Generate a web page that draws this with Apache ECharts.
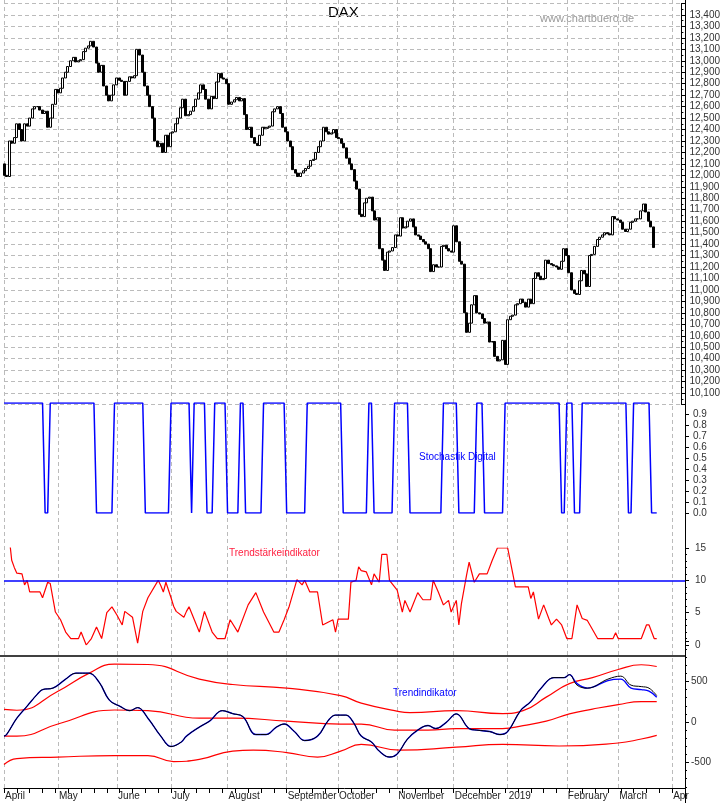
<!DOCTYPE html>
<html><head><meta charset="utf-8">
<script src="https://cdn.jsdelivr.net/npm/echarts@6/dist/echarts.min.js"></script>
<style>html,body{margin:0;padding:0;background:#fff}#c{width:723px;height:803px}</style>
</head><body><div id="c"></div>
<script>
// ---- data ----
const startDate = '2018-04-02';
const dayCount = 266;
const monthNames = ['January','February','March','April','May','June','July','August','September','October','November','December'];
const firstOpen = 12100;
const closes = [
12000,11990,12300,12280,12330,12450,12400,12300,12450,12430,
12500,12580,12600,12600,12570,12540,12560,12420,12500,12620,
12750,12720,12760,12850,12900,12950,13000,13030,12990,13000,
13010,13080,13110,13130,13170,13120,12980,12900,12960,12780,
12700,12650,12700,12790,12850,12830,12820,12700,12820,12860,
12850,12870,13100,13050,12900,12780,12700,12600,12500,12300,
12250,12280,12200,12350,12250,12370,12380,12450,12500,12590,
12665,12520,12530,12560,12600,12665,12720,12790,12750,12665,
12580,12690,12670,12815,12890,12850,12840,12800,12620,12640,
12660,12680,12650,12670,12530,12400,12420,12330,12280,12260,
12350,12420,12410,12420,12430,12555,12580,12600,12540,12420,
12380,12300,12250,12050,12020,11990,12020,12040,12060,12080,
12130,12140,12200,12250,12300,12420,12380,12360,12370,12400,
12330,12320,12280,12240,12150,12100,12050,11950,11880,11660,
11640,11760,11800,11810,11690,11610,11630,11360,11260,11170,
11330,11340,11370,11480,11470,11630,11540,11550,11600,11620,
11550,11480,11470,11440,11420,11400,11360,11160,11220,11200,
11200,11380,11390,11360,11340,11330,11560,11420,11250,11225,
10800,10630,10710,10870,10950,10800,10790,10750,10710,10720,
10545,10550,10420,10380,10390,10560,10350,10740,10770,10780,
10870,10880,10920,10890,10850,10920,10880,11100,11150,11120,
11090,11100,11260,11230,11220,11210,11200,11180,11250,11360,
11300,11150,11000,10970,10960,11080,11170,11140,11030,11300,
11310,11380,11440,11460,11480,11500,11490,11480,11640,11620,
11610,11590,11530,11510,11530,11590,11600,11620,11620,11690,
11750,11680,11600,11550,11370];
// stochastik digital: [fromIndex, toIndex, value]
const stochRuns = [[0,15,1],[16,17,0],[18,35,1],[36,42,0],[43,54,1],[55,64,0],[65,72,1],[73,73,0],
[74,78,1],[79,81,0],[82,86,1],[87,91,0],[92,93,1],[94,100,0],[101,109,1],[110,117,0],[118,131,1],
[132,141,0],[142,143,1],[144,151,0],[152,157,1],[158,170,0],[171,176,1],[177,183,0],[184,186,1],
[187,194,0],[195,216,1],[217,218,0],[219,221,1],[222,224,0],[225,242,1],[243,244,0],[245,251,1],[252,254,0]];
const trendStrength = [[0,17.8],[1,16.5],[2,16.8],[3,13.1],[4,12],[5,11.1],[7,11],[8,9.3],[9,10],[10,8.2],[14,8.2],
[15,7.3],[17,9.7],[18,9.5],[20,5.1],[22,3.9],[24,2],[26,1],[29,1],[30,2],[32,0],[34,1],[36,2.8],[38,1],[40,5],[42,5.9],
[44,4.6],[46,3.1],[47,5.2],[50,4.3],[51,2.3],[52,0.3],[54,5.2],[56,7.3],[60,10],[61,9.2],[62,8.2],[63,9.7],[65,7.3],
[66,6],[67,5.2],[70,4.3],[71,5.2],[72,5.9],[76,2],[78,5.2],[81,2],[83,1],[86,1],[88,3.9],[91,2],[95,6.2],[98,8.1],
[101,5.1],[105,2],[107,2],[109,3.9],[111,6],[114,10.1],[116,9.3],[117,10],[119,8.2],[122,8.2],[124,3.1],[128,3.9],
[129,2],[130,4],[134,4],[135,9.7],[137,10],[138,12.1],[139,11.5],[141,11.3],[143,9.3],[144,11],[146,9.7],[147,14],
[149,14],[150,10],[153,8.5],[155,5.1],[156,6.9],[158,5.1],[161,8.1],[163,7],[166,7],[167,10],[169,8.2],[171,6.2],
[173,6.9],[174,5.1],[176,6.9],[177,3.1],[178,6.4],[180,10.8],[181,12.8],[183,9.7],[185,11],[188,11],[190,13.1],
[192,15],[196,15],[198,11],[199,9],[204,9],[205,7.2],[206,8.2],[208,4],[210,6.2],[212,4.1],[213,3.1],[215,4],
[217,3.1],[219,1],[221,1],[223,6.2],[225,4.1],[227,3.8],[228,3.1],[231,1],[237,1],[238,1.9],[239,1],[248,1],
[250,3.1],[251,3.1],[253,1],[254,1]];
const bandUpper = [[0,155],[5,145],[21,380],[33,600],[43,715],[56,710],[76,530],[89,463],[110,418],[131,325],[139,233],
[152,141],[158,115],[176,141],[194,104],[202,141],[211,307],[220,474],[229,548],[239,648],[248,707],[254,685]];
const bandMiddle = [[0,-174],[5,-174],[21,-25],[43,148],[56,141],[76,47],[89,47],[110,11],[131,-25],[139,-25],
[152,-100],[165,-100],[176,-81],[194,-81],[202,-44],[211,11],[220,100],[229,159],[239,215],[248,252],[254,252]];
const bandLower = [[0,-525],[5,-451],[21,-433],[43,-414],[56,-414],[66,-488],[76,-462],[89,-359],[97,-348],[110,-377],
[122,-433],[131,-359],[139,-277],[154,-348],[176,-311],[194,-277],[216,-296],[239,-259],[248,-210],[254,-166]];
const trendBlack = [[0,-174],[1,-155],[5,47],[9,196],[13,344],[15,400],[19,418],[24,529],[28,603],[33,603],[37,492],
[41,270],[45,196],[49,140],[52,178],[56,47],[61,-174],[65,-303],[69,-247],[71,-174],[76,-63],[80,11],[85,140],[89,103],
[93,66],[98,-155],[102,-155],[106,-63],[109,-25],[113,-118],[117,-229],[122,-174],[126,11],[129,85],[133,85],[136,-7],
[139,-174],[143,-247],[146,-359],[150,-433],[153,-396],[157,-211],[161,-100],[165,-44],[168,-81],[172,-7],[176,100],
[181,-81],[184,-100],[189,-118],[193,-155],[196,-118],[201,141],[205,252],[209,418],[214,548],[218,548],[220,585],
[223,455],[227,418],[235,529],[240,566],[244,455],[248,437],[251,418],[254,326]];
const trendBlueTail = [[223,474],[227,418],[235,511],[240,529],[244,418],[248,400],[251,381],[254,307]];
const priceTicks = {min:10000,max:13500,step:100};
const stochTicks = {min:0,max:1,step:0.1};
const strengthTicks = {min:0,max:15,step:5};
const trendTicks = {min:-1000,max:1000,step:500};

// ---- build ----
const dates = [];
{ let d = new Date(startDate+'T12:00:00Z');
  while (dates.length < dayCount) { const w = d.getUTCDay(); if (w!==0 && w!==6) dates.push(d.toISOString().slice(0,10)); d = new Date(d.getTime()+86400000); } }
const isMonthStart = i => i===0 || dates[i].slice(5,7)!==dates[i-1].slice(5,7);
const monthLabel = v => { const m = +v.slice(5,7), y = v.slice(0,4);
  if (m===1) return y; if (y==='2019' && m===4) return 'Apr'; return monthNames[m-1]; };
const candles = closes.map((c,i)=>{ const o = i===0?firstOpen:closes[i-1]; return [o,c,Math.min(o,c),Math.max(o,c)]; });
const stoch = [];
stochRuns.forEach(r=>{ for(let i=r[0];i<=r[1];i++) stoch.push([i,r[2]]); });
const trendBlue = trendBlack.filter(p=>p[0]<223).concat(trendBlueTail);

const FONT = 'Liberation Sans';
const L = 4, R = 38;
const axisY = (t, extra) => Object.assign({
  type:'value', position:'right', min:t.min, max:t.max, interval:t.step,
  axisLine:{show:true,lineStyle:{color:'#000'}}, axisTick:{show:true,length:4,lineStyle:{color:'#000'}},
  minorTick:{show:true,splitNumber:2,length:2,lineStyle:{color:'#000'}},
  axisLabel:{color:'#333',fontSize:10,fontFamily:FONT,margin:8,showMinLabel:false,showMaxLabel:false},
  splitLine:{show:false}
}, extra);
const hiddenX = gi => ({gridIndex:gi,type:'category',data:dates,boundaryGap:false,show:false});

const chart = echarts.init(document.getElementById('c'));
chart.setOption({
  animation:false,
  backgroundColor:'#fff',
  grid:[
    {left:L,right:R,top:3.5,height:401},
    {left:L,right:R,top:403,height:110},
    {left:L,right:R,top:548,height:97},
    {left:L,right:R,top:641,height:180},
    {left:L,right:R,top:0,height:788}
  ],
  xAxis:[hiddenX(0),hiddenX(1),hiddenX(2),hiddenX(3),
    {gridIndex:4,type:'category',data:dates,boundaryGap:false,
     axisLine:{lineStyle:{color:'#000'}},
     axisTick:{show:true,length:5,interval:(i)=>i%5===0,lineStyle:{color:'#000'}},
     axisLabel:{interval:(i)=>isMonthStart(i),formatter:monthLabel,align:'left',margin:3,fontSize:10,color:'#222',fontFamily:FONT,padding:[0,0,0,1]},
     splitLine:{show:true,interval:(i)=>isMonthStart(i),lineStyle:{color:'#bbb',type:[4,3]}}}
  ],
  yAxis:[
    axisY(priceTicks,{gridIndex:0,splitLine:{show:true,lineStyle:{color:'#bbb',type:[4,3]}}}),
    axisY(stochTicks,{gridIndex:1,axisLabel:{color:'#333',fontSize:10,fontFamily:FONT,margin:8,showMinLabel:true,showMaxLabel:false,formatter:v=>v.toFixed(1)},minorTick:{show:false}}),
    axisY(strengthTicks,{gridIndex:2,minorTick:{show:true,splitNumber:5,length:2,lineStyle:{color:'#000'}},axisLabel:{color:'#333',fontSize:10,fontFamily:FONT,margin:10,showMinLabel:true,showMaxLabel:true}}),
    axisY(trendTicks,{gridIndex:3,minorTick:{show:true,splitNumber:5,length:2,lineStyle:{color:'#000'}},axisLabel:{color:'#333',fontSize:10,fontFamily:FONT,margin:6,formatter:v=>Math.abs(v)>=1000?'':String(v)}}),
    {gridIndex:4,type:'value',position:'right',min:0,max:1,axisLine:{show:true,lineStyle:{color:'#000'}},axisTick:{show:false},axisLabel:{show:false},splitLine:{show:false}}
  ],
  series:[
    {type:'candlestick',xAxisIndex:0,yAxisIndex:0,data:candles,barWidth:2.5,
     itemStyle:{color:'#fff',color0:'#000',borderColor:'#000',borderColor0:'#000',borderWidth:1}},
    {type:'line',xAxisIndex:1,yAxisIndex:1,data:stoch,showSymbol:false,lineStyle:{color:'#0000ff',width:1.5}},
    {type:'line',xAxisIndex:2,yAxisIndex:2,data:trendStrength,showSymbol:false,lineStyle:{color:'#ff0000',width:1.2},
     markLine:{silent:true,symbol:'none',label:{show:false},lineStyle:{color:'#0000ff',width:1.5,type:'solid'},data:[{yAxis:10}]}},
    {type:'line',xAxisIndex:3,yAxisIndex:3,data:bandUpper,smooth:0.5,showSymbol:false,lineStyle:{color:'#ff0000',width:1.2}},
    {type:'line',xAxisIndex:3,yAxisIndex:3,data:bandMiddle,smooth:0.5,showSymbol:false,lineStyle:{color:'#ff0000',width:1.2}},
    {type:'line',xAxisIndex:3,yAxisIndex:3,data:bandLower,smooth:0.5,showSymbol:false,lineStyle:{color:'#ff0000',width:1.2}},
    {type:'line',xAxisIndex:3,yAxisIndex:3,data:trendBlue,smooth:0.4,showSymbol:false,lineStyle:{color:'#0000ff',width:1.4}},
    {type:'line',xAxisIndex:3,yAxisIndex:3,data:trendBlack,smooth:0.4,showSymbol:false,lineStyle:{color:'#000',width:1}}
  ],
  graphic:[
    {type:'line',shape:{x1:0,y1:656,x2:L+681,y2:656},style:{stroke:'#000',lineWidth:1.5}},
    {type:'text',left:328,top:5,style:{text:'DAX',font:'15px "Liberation Sans"',fill:'#000'}},
    {type:'text',left:540,top:13,style:{text:'www.chartbuero.de',font:'11px "Liberation Sans"',fill:'#999'}},
    {type:'text',left:419,top:452,style:{text:'Stochastik Digital',font:'10px "Liberation Sans"',fill:'#0000ff'}},
    {type:'text',left:229,top:548,style:{text:'Trendstärkeindikator',font:'10px "Liberation Sans"',fill:'#ff2040'}},
    {type:'text',left:393,top:688,style:{text:'Trendindikator',font:'10px "Liberation Sans"',fill:'#0000ff'}}
  ]
});
</script></body></html>
